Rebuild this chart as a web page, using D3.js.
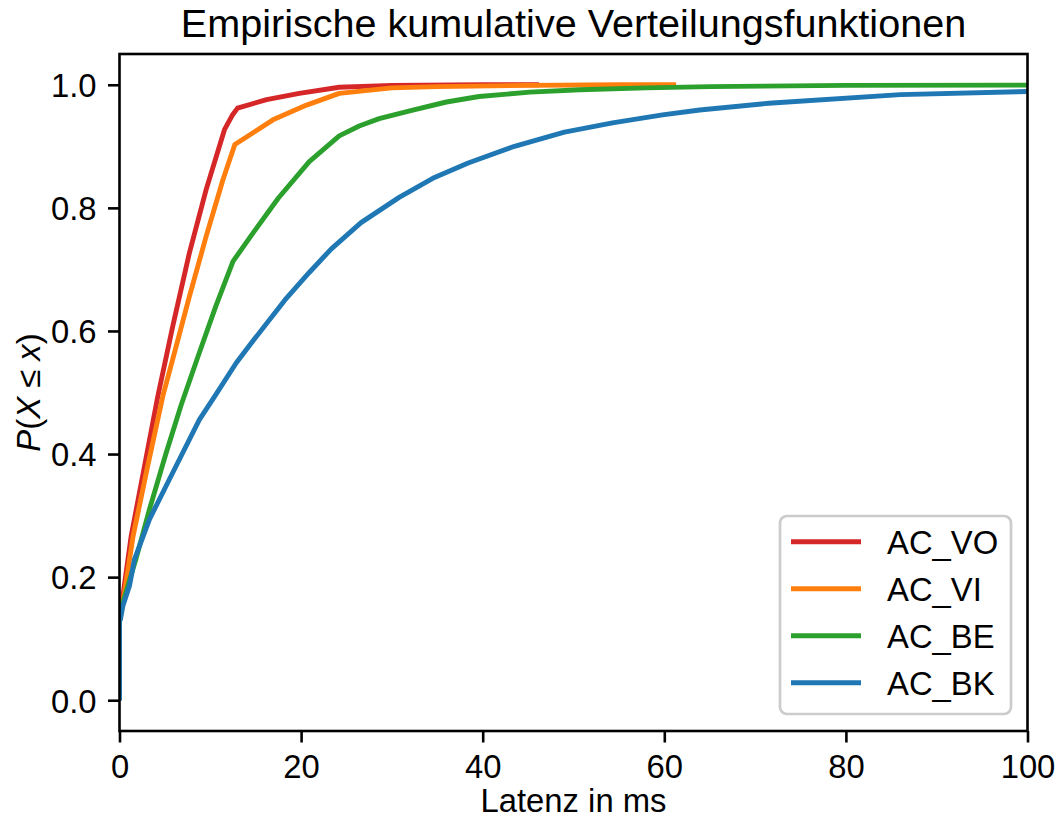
<!DOCTYPE html>
<html>
<head>
<meta charset="utf-8">
<script src="https://cdn.jsdelivr.net/npm/d3@7"></script>
<style>
  body { margin: 0; background: #fff; }
  svg { font-family: "Liberation Sans", Arial, Helvetica, sans-serif; }
</style>
</head>
<body>
<svg id="chart"></svg>
<script>
// series names, colours and ECDF points
var names = ["AC_VO", "AC_VI", "AC_BE", "AC_BK"];
var colors = ["#d62728", "#ff7f0e", "#2ca02c", "#1f77b4"];

var voX = [0, 0, 0.1, 0.37, 1.29, 2.75, 4.22, 5.87, 7.7, 9.55, 11.56, 12.4, 13.0, 16.2, 19.8, 24.2, 30, 40, 46.2];
var voY = [0, 0.14, 0.15, 0.169, 0.267, 0.38, 0.494, 0.608, 0.727, 0.83, 0.927, 0.95, 0.962, 0.976, 0.986, 0.996, 0.999, 1.0, 1.0];

var viX = [0, 0, 0.1, 0.5, 1.5, 3.1, 4.77, 6.24, 7.7, 9.55, 11.4, 12.7, 16.9, 20.6, 24.2, 30, 35, 45, 55, 61.3];
var viY = [0, 0.14, 0.15, 0.17, 0.267, 0.38, 0.494, 0.575, 0.656, 0.754, 0.846, 0.903, 0.943, 0.967, 0.986, 0.995, 0.997, 0.999, 1.0, 1.0];

var beX = [0, 0, 0.1, 0.5, 1.8, 3.3, 5.1, 6.8, 8.8, 10.6, 12.5, 14.5, 17.5, 20.9, 24.2, 26.4, 28.6, 32.3, 36, 39.6, 45.2, 50.7, 58, 65, 80, 100];
var beY = [0, 0.135, 0.145, 0.165, 0.229, 0.31, 0.4, 0.48, 0.565, 0.64, 0.713, 0.755, 0.816, 0.875, 0.917, 0.933, 0.945, 0.959, 0.972, 0.981, 0.988, 0.992, 0.995, 0.997, 0.999, 0.9995];

var bkX = [0, 0, 0.1, 0.37, 1.1, 1.65, 3.3, 5.5, 8.8, 10.5, 12.85, 14.5, 18.2, 20.9, 23.3, 26.6, 30.8, 34.5, 38.4, 43.5, 49, 54.3, 59.8, 63.9, 71.5, 86, 100];
var bkY = [0, 0.13, 0.131, 0.153, 0.186, 0.229, 0.294, 0.359, 0.456, 0.494, 0.548, 0.58, 0.65, 0.695, 0.733, 0.776, 0.817, 0.848, 0.873, 0.9, 0.923, 0.938, 0.951, 0.959, 0.97, 0.984, 0.989];

var xTicks = [0, 20, 40, 60, 80, 100];
var yTicks = [0, 0.2, 0.4, 0.6, 0.8, 1.0];

(function ecdfChart() {

    var series = [[voX, voY], [viX, viY], [beX, beY], [bkX, bkY]].map(function (s, i) {
        return { name: names[i], color: colors[i], points: s[0].map(function (x, j) { return [x, s[1][j]]; }) };
    });

    var W = 1062, H = 820;
    var svg = d3.select("#chart").attr("width", W).attr("height", H);
    var pl = 119.5, pr = 1027.5, pt = 54, pb = 731;
    var fs = 32.8;

    var x = d3.scaleLinear().domain([0, 100]).range([pl, pr]);
    var y = d3.scaleLinear().domain([-0.05, 1.05]).range([pb, pt]);

    // lines, clipped to the axes box
    svg.append("clipPath").attr("id", "clip")
        .append("rect").attr("x", pl).attr("y", pt).attr("width", pr - pl).attr("height", pb - pt);

    var line = d3.line()
        .x(function (d) { return x(d[0]); })
        .y(function (d) { return y(d[1]); });

    svg.append("g").attr("clip-path", "url(#clip)")
        .selectAll("path")
        .data(series)
        .enter().append("path")
        .attr("d", function (d) { return line(d.points); })
        .attr("fill", "none")
        .attr("stroke", function (d) { return d.color; })
        .attr("stroke-width", 4.9)
        .attr("stroke-linejoin", "round")
        .attr("stroke-linecap", "butt");

    // axes
    var gx = svg.append("g")
        .attr("transform", "translate(0," + pb + ")")
        .call(d3.axisBottom(x).tickValues(xTicks).tickFormat(d3.format("d")).tickSize(11.5).tickSizeOuter(0).tickPadding(11.5));
    var gy = svg.append("g")
        .attr("transform", "translate(" + pl + ",0)")
        .call(d3.axisLeft(y).tickValues(yTicks).tickFormat(d3.format(".1f")).tickSize(11.5).tickSizeOuter(0).tickPadding(11.5));

    [gx, gy].forEach(function (g) {
        g.select(".domain").remove();
        g.selectAll(".tick line").attr("stroke", "#000").attr("stroke-width", 2.6);
        g.selectAll(".tick text")
            .attr("fill", "#000")
            .style("font-family", "'Liberation Sans', Arial, Helvetica, sans-serif")
            .style("font-size", fs + "px");
    });
    gx.selectAll(".tick text").attr("dy", "0.72em");
    gy.selectAll(".tick text").attr("dy", "0.36em");

    // frame
    svg.append("rect")
        .attr("x", pl).attr("y", pt)
        .attr("width", pr - pl).attr("height", pb - pt)
        .attr("fill", "none").attr("stroke", "#000").attr("stroke-width", 2.6);

    // title and labels
    svg.append("text")
        .attr("x", (pl + pr) / 2).attr("y", 37)
        .attr("text-anchor", "middle")
        .style("font-size", "39.6px")
        .text("Empirische kumulative Verteilungsfunktionen");

    svg.append("text")
        .attr("x", (pl + pr) / 2).attr("y", 812)
        .attr("text-anchor", "middle")
        .style("font-size", fs + "px")
        .text("Latenz in ms");

    var yl = svg.append("text")
        .attr("transform", "translate(40," + (pt + pb) / 2 + ") rotate(-90)")
        .attr("text-anchor", "middle")
        .style("font-size", fs + "px");
    yl.append("tspan").style("font-style", "italic").text("P");
    yl.append("tspan").text("(");
    yl.append("tspan").style("font-style", "italic").text("X");
    yl.append("tspan").text(" \u2264 ");
    yl.append("tspan").style("font-style", "italic").text("x");
    yl.append("tspan").text(")");

    // legend
    var legend = svg.append("g");
    legend.append("rect")
        .attr("x", 780).attr("y", 516)
        .attr("width", 231).attr("height", 198)
        .attr("rx", 7).attr("ry", 7)
        .attr("fill", "#fff").attr("fill-opacity", 0.8)
        .attr("stroke", "#cccccc").attr("stroke-width", 2.7);

    var item = legend.selectAll("g.item")
        .data(series)
        .enter().append("g")
        .attr("class", "item")
        .attr("transform", function (d, i) { return "translate(0," + (541.7 + i * 47) + ")"; });

    item.append("line")
        .attr("x1", 791).attr("x2", 861)
        .attr("stroke", function (d) { return d.color; })
        .attr("stroke-width", 4.9);

    item.append("text")
        .attr("x", 887).attr("dy", "0.36em")
        .style("font-size", fs + "px")
        .text(function (d) { return d.name; });

}());
</script>
</body>
</html>
